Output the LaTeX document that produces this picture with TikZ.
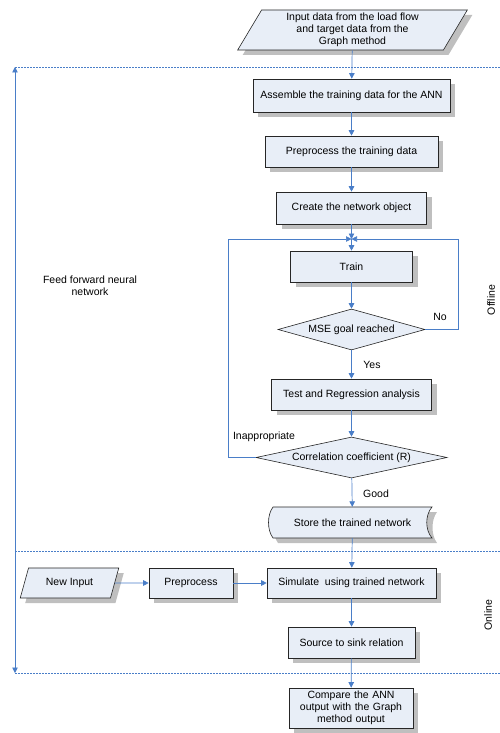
\documentclass[tikz,border=0pt]{standalone}
\usepackage{fontspec}
\setmainfont{Liberation Sans}
\usetikzlibrary{shapes.geometric,arrows.meta,shadows}
\definecolor{boxfill}{HTML}{E8EEF7}
\definecolor{linkblue}{HTML}{4A7EC8}
\definecolor{shadowgray}{HTML}{BFBFBF}
\begin{document}
\begin{tikzpicture}[x=1pt,y=-1pt,
  font=\fontsize{10.5}{12.2}\selectfont,
  shad/.style={drop shadow={shadow xshift=5pt,shadow yshift=-5pt,fill=shadowgray,opacity=1}},
  box/.style={rectangle,draw=black!85,line width=0.6pt,fill=boxfill,shad,inner sep=0pt,align=center},
  para/.style={trapezium,trapezium left angle=63,trapezium right angle=117,trapezium stretches=true,draw=black!85,line width=0.6pt,fill=boxfill,shad,inner sep=0pt,align=center},
  dia/.style={diamond,aspect=4,draw=black!85,line width=0.6pt,fill=boxfill,inner sep=0pt,align=center},
  link/.style={draw=linkblue,line width=0.7pt,-{Triangle[width=5.5pt,length=5.5pt]}},
  sep/.style={draw=linkblue,line width=0.6pt,dash pattern=on 2pt off 1pt},
  lbl/.style={inner sep=0pt}]
\useasboundingbox (0,0) rectangle (500,733);

% stored-data shape, drawn first so its node text sits on top
\fill[shadowgray] (278,512) .. controls (272,520) and (272,535) .. (278,543) -- (437,543) .. controls (431,535) and (431,520) .. (437,512) -- cycle;
\draw[black!85,line width=0.6pt,fill=boxfill] (273,507) .. controls (267,515) and (267,530) .. (273,538) -- (432,538) .. controls (425,530) and (425,515) .. (432,507) -- cycle;

\node[para,minimum width=230pt,minimum height=40pt] (input) at (352.5,30) {Input data from the load flow\\and target data from the\\Graph method};
\node[box,minimum width=197pt,minimum height=33pt] (assemble) at (351.5,95.5) {Assemble the training data for the ANN};
\node[box,minimum width=173pt,minimum height=31pt] (prep) at (351.5,151.5) {Preprocess the training data};
\node[box,minimum width=150pt,minimum height=32pt] (create) at (351.5,208) {Create the network object};
\coordinate (join) at (351.5,239);
\node[box,minimum width=122pt,minimum height=31pt] (train) at (351.5,266.5) {Train};
\node[dia,minimum width=147pt,minimum height=41pt] (mse) at (351.5,329.5) {MSE goal reached};
\node[box,minimum width=160pt,minimum height=31pt] (test) at (351.5,394.5) {Test and Regression analysis};
\node[dia,minimum width=191pt,minimum height=41pt] (corr) at (351.5,457.5) {Correlation coefficient (R)};
\node[minimum width=159pt,minimum height=31pt,inner sep=0pt] (store) at (352.5,522.5) {Store the trained network};
\node[para,minimum width=99pt,minimum height=30pt] (newin) at (69.5,583) {New Input};
\node[box,minimum width=84pt,minimum height=30pt] (prep2) at (191,583) {Preprocess};
\node[box,minimum width=169pt,minimum height=30pt] (sim) at (351.5,583) {Simulate\ \ using trained network};
\node[box,minimum width=127pt,minimum height=31pt] (source) at (351.5,642.5) {Source to sink relation};
\node[box,minimum width=124pt,minimum height=40pt,text width=120pt] (compare) at (351,708) {Compare the ANN\\output with the Graph\\method output};

% section separators
\coordinate (s1l) at (15,67); \coordinate (s1r) at (500,67);
\coordinate (s2l) at (15,551); \coordinate (s2r) at (500,551);
\coordinate (s3l) at (15,673); \coordinate (s3r) at (500,673);
\draw[sep] (s1l) -- (s1r);
\draw[sep] (s2l) -- (s2r);
\draw[sep] (s3l) -- (s3r);
\draw[draw=linkblue,line width=0.7pt,{Triangle[width=5.5pt,length=5.5pt]}-{Triangle[width=5.5pt,length=5.5pt]}] (s1l) -- (s3l);

% connectors
\path[link] (input) -- (assemble);
\path[link] (assemble) -- (prep);
\path[link] (prep) -- (create);
\path[link] (create) -- (join);
\path[link] (join) -- (train);
\path[link] (train) -- (mse);
\coordinate (noR) at (458,329.5); \coordinate (noT) at (458,239);
\path[link] (mse.east) -- (noR) -- (noT) -- (join);
\path[link] (mse) -- (test);
\path[link] (test) -- (corr);
\coordinate (inL) at (228,457.5); \coordinate (inT) at (228,239);
\path[link] (corr.west) -- (inL) -- (inT) -- (join);
\path[link] (corr) -- (store);
\path[link] (store) -- (sim);
\path[link] (newin) -- (prep2);
\path[link] (prep2) -- (sim);
\path[link] (sim) -- (source);
\path[link] (source) -- (compare);

% labels
\node[lbl] (no) at (440,317) {No};
\node[lbl] (yes) at (372,365) {Yes};
\node[lbl] (inap) at (264,437) {Inappropriate};
\node[lbl] (good) at (376,494) {Good};
\node[lbl,align=center] (ffnn) at (90,286) {Feed forward neural\\network};
\node[lbl,rotate=90] (offline) at (491,300) {Offline};
\node[lbl,rotate=90] (online) at (488,615) {Online};
\end{tikzpicture}
\end{document}
